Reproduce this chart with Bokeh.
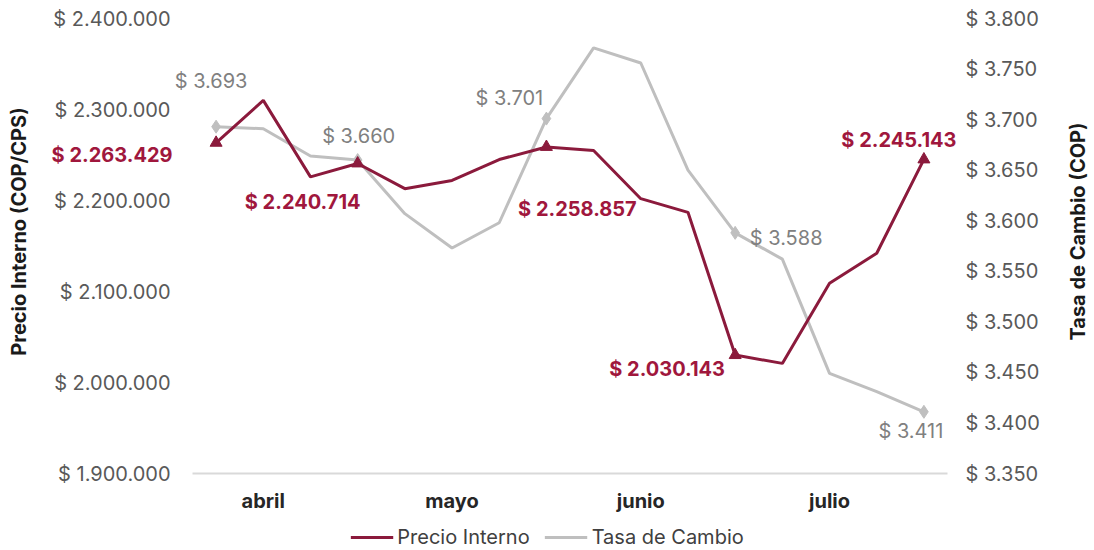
import math
from bokeh.plotting import figure
from bokeh.models import (Range1d, LinearAxis, FixedTicker, Legend, LegendItem,
                          ColumnDataSource, LabelSet, Label)
from bokeh.core.properties import value
from bokeh.embed import file_html
from bokeh.resources import INLINE

# ---------------- data ----------------
weeks = list(range(16))
precio = [2263429, 2310000, 2226000, 2240714, 2213000, 2222000, 2245000, 2258857,
          2255000, 2202000, 2187000, 2030143, 2021000, 2109000, 2142000, 2245143]
tasa = [3693, 3691, 3664, 3660, 3607, 3573, 3598, 3701,
        3771, 3756, 3650, 3588, 3562, 3449, 3431, 3411]
marked = [0, 3, 7, 11, 15]
month_labels = ["abril", "mayo", "junio", "julio"]
month_weeks = [1, 5, 9, 13]
left_ticks = [1900000, 2000000, 2100000, 2200000, 2300000, 2400000]
right_ticks = [3350, 3400, 3450, 3500, 3550, 3600, 3650, 3700, 3750, 3800]
series_names = ["Precio Interno", "Tasa de Cambio"]
y_titles = ["Precio Interno (COP/CPS)", "Tasa de Cambio (COP)"]

# ---------------- style / layout ----------------
FONT = "Inter"
RED = "#8B1A3C"
RED_TXT = "#A0173D"
GRAY = "#BFBFBF"
GRAY_TXT = "#808080"
TICK_TXT = "#595959"
TITLE_TXT = "#1A1A1A"
FS = "20px"

FIG_W, FIG_H = 1094, 550
AX_L, AX_R = 192, 947          # screen x of the two value axes
AX_T, AX_B = 18, 473           # screen y of top / bottom of the value axes
TITLE_X = [18, 1077]           # screen x of the two axis titles
TITLE_Y = 231                  # screen y (from top) of their centres

red_dx = [-104, -55, 31, -68, -25]
red_dy = [12, 39, 62, 14, -19]
gray_dx = [-5, 1, -37, 51, -13]
gray_dy = [-46, -24, -21, 5, 19]


def fmt(v):
    return "$ " + f"{v:,}".replace(",", ".")


def span(lo, hi, a, b, total):
    """range whose [lo, hi] occupies screen pixels [a, b] of a total extent"""
    u = (hi - lo) / (b - a)
    return Range1d(lo - a * u, hi + (total - b) * u)


x_lo, x_hi = weeks[0] - 0.5, weeks[-1] + 0.5
xr = span(x_lo, x_hi, AX_L, AX_R, FIG_W)
yl = span(left_ticks[0], left_ticks[-1], FIG_H - AX_B, FIG_H - AX_T, FIG_H)
yr = span(right_ticks[0], right_ticks[-1], FIG_H - AX_B, FIG_H - AX_T, FIG_H)

p = figure(frame_width=FIG_W, frame_height=FIG_H, output_backend="svg",
           toolbar_location=None, x_range=xr, y_range=yl, min_border=0)
p.extra_y_ranges = {"tasa": yr}
p.outline_line_color = None
p.xgrid.visible = False
p.ygrid.visible = False

# x axis
xa = p.xaxis[0]
xa.fixed_location = left_ticks[0]
xa.bounds = (x_lo, x_hi)
xa.ticker = FixedTicker(ticks=month_weeks)
xa.major_label_overrides = {w: m for w, m in zip(month_weeks, month_labels)}
xa.axis_line_color = "#D9D9D9"
xa.axis_line_width = 2
xa.major_tick_line_color = None
xa.minor_tick_line_color = None
xa.major_tick_out = 0
xa.major_tick_in = 0
xa.major_label_standoff = 15
xa.major_label_text_font = FONT
xa.major_label_text_font_style = "bold"
xa.major_label_text_font_size = FS
xa.major_label_text_color = "#262626"

# left axis
ya = p.yaxis[0]
ya.fixed_location = x_lo
ya.ticker = FixedTicker(ticks=left_ticks)
ya.major_label_overrides = {t: fmt(t) for t in left_ticks}
ya.axis_line_color = None
ya.major_tick_line_color = None
ya.minor_tick_line_color = None
ya.major_tick_out = 0
ya.major_tick_in = 0
ya.major_label_standoff = 22
ya.major_label_text_font = FONT
ya.major_label_text_font_size = FS
ya.major_label_text_color = TICK_TXT

# right axis
ra = LinearAxis(y_range_name="tasa", ticker=FixedTicker(ticks=right_ticks))
ra.fixed_location = x_hi
ra.major_label_overrides = {t: fmt(t) for t in right_ticks}
ra.axis_line_color = None
ra.major_tick_line_color = None
ra.minor_tick_line_color = None
ra.major_tick_out = 0
ra.major_tick_in = 0
ra.major_label_standoff = 18
ra.major_label_text_font = FONT
ra.major_label_text_font_size = FS
ra.major_label_text_color = TICK_TXT
p.add_layout(ra, "right")

# axis titles, both reading bottom-to-top
for tx, title in zip(TITLE_X, y_titles):
    p.add_layout(Label(x=tx, y=FIG_H - TITLE_Y, x_units="screen",
                       y_units="screen", text=title, angle=math.pi / 2,
                       text_font=FONT, text_font_style="bold",
                       text_font_size=FS, text_color=TITLE_TXT,
                       text_align="center", text_baseline="middle"))

# lines
src = ColumnDataSource(dict(x=weeks, precio=precio, tasa=tasa))
g_line = p.line("x", "tasa", source=src, y_range_name="tasa", line_color=GRAY,
                line_width=3)
r_line = p.line("x", "precio", source=src, line_color=RED, line_width=3)

msrc = ColumnDataSource(dict(
    x=[weeks[i] for i in marked],
    precio=[precio[i] for i in marked],
    tasa=[tasa[i] for i in marked],
    ptxt=[fmt(precio[i]) for i in marked],
    ttxt=[fmt(tasa[i]) for i in marked],
    rdx=red_dx, rdy=[-d for d in red_dy], gdx=gray_dx, gdy=[-d for d in gray_dy],
))
p.scatter("x", "tasa", source=msrc, y_range_name="tasa", marker="diamond",
          size=13, fill_color=GRAY, line_color=GRAY)
p.scatter("x", "precio", source=msrc, marker="triangle", size=12,
          fill_color=RED, line_color=RED)

p.add_layout(LabelSet(x="x", y="precio", text="ptxt", source=msrc,
                      x_offset="rdx", y_offset="rdy",
                      text_font=value(FONT), text_font_style="bold",
                      text_font_size=FS, text_color=RED_TXT,
                      text_align="center", text_baseline="middle"))
p.add_layout(LabelSet(x="x", y="tasa", text="ttxt", source=msrc,
                      y_range_name="tasa", x_offset="gdx", y_offset="gdy",
                      text_font=value(FONT), text_font_size=FS,
                      text_color=GRAY_TXT, text_align="center",
                      text_baseline="middle"))

legend = Legend(items=[LegendItem(label=series_names[0], renderers=[r_line]),
                       LegendItem(label=series_names[1], renderers=[g_line])],
                orientation="horizontal", location="bottom_center", padding=0,
                margin=1, spacing=15, glyph_width=43, glyph_height=20,
                label_height=20, label_standoff=4, label_text_font=FONT,
                label_text_font_size=FS, label_text_color="#404040",
                border_line_color=None, background_fill_alpha=0)
p.add_layout(legend, "center")

open("out.html", "w").write(file_html(p, INLINE))
